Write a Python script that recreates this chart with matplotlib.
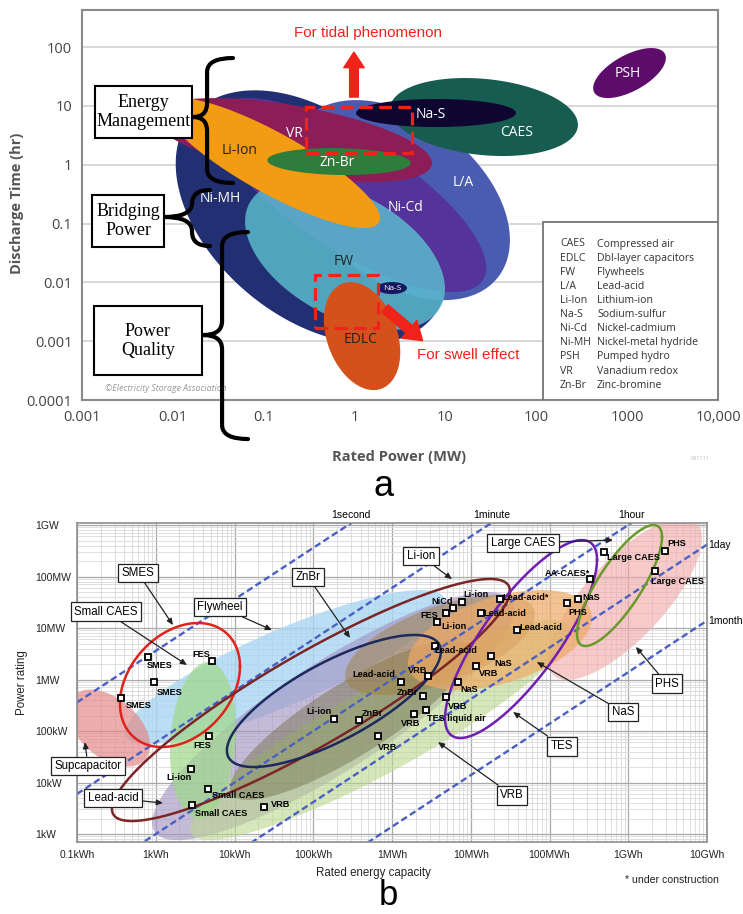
import numpy as np
import matplotlib
matplotlib.use("Agg")
import matplotlib.pyplot as plt
from matplotlib.patches import Rectangle, PathPatch
from matplotlib.path import Path
from matplotlib.ticker import FixedLocator, NullLocator, LogLocator

# ---------------- panel a: discharge time vs rated power ----------------
a_power_ticks = [1e-3, 1e-2, 1e-1, 1, 10, 100, 1000, 1e4]
a_power_labels = ["0.001", "0.01", "0.1", "1", "10", "100", "1000", "10,000"]
a_time_ticks = [1e-4, 1e-3, 1e-2, 1e-1, 1, 10, 100]
a_time_labels = ["0.0001", "0.001", "0.01", "0.1", "1", "10", "100"]

# technology regions: centre power (MW), centre time (hr), half-spans in decades, tilt
a_tech = ["Ni-MH", "L/A", "Ni-Cd", "FW", "CAES", "VR", "Na-S", "Li-Ion", "Zn-Br", "PSH", "EDLC", "Na-S (small)"]
a_center_mw = [0.34, 3.16, 0.89, 0.785, 26.5, 0.205, 7.87, 0.123, 0.675, 1062, 1.21, 2.58]
a_center_hr = [0.13, 0.25, 0.305, 0.0291, 6.46, 2.62, 7.55, 1.07, 1.13, 36.1, 0.00122, 0.0080]
a_span_mw = [1.50, 1.21, 1.50, 1.10, 1.035, 1.54, 0.88, 1.19, 0.79, 0.40, 0.42, 0.165]
a_span_hr = [2.15, 1.70, 1.65, 1.275, 0.663, 0.714, 0.238, 1.105, 0.229, 0.425, 0.918, 0.102]
a_tilt = [-0.42, -0.4, -0.75, -0.45, -0.2, -0.55, 0.0, -0.85, -0.1, 0.6, -0.3, 0.0]
a_colors = ["#232f73", "#4a5cb0", "#54339a", "#5cc2d2", "#175c50", "#8c1d56", "#0e0630",
            "#f39b12", "#2f7d3b", "#5e0c6c", "#d5511b", "#181860"]
a_alpha = [1, 1, 1, 0.8, 1, 1, 1, 1, 1, 1, 1, 1]

# region labels
a_lab_text = ["Li-Ion", "VR", "Zn-Br", "Na-S", "CAES", "PSH", "L/A", "Ni-Cd", "Ni-MH", "FW", "EDLC", "Na-S"]
a_lab_mw = [0.0548, 0.215, 0.641, 6.93, 61.4, 1021, 15.6, 3.68, 0.033, 0.766, 1.15, 2.58]
a_lab_hr = [1.77, 3.45, 1.07, 7.26, 3.59, 34.8, 0.507, 0.190, 0.271, 0.0230, 0.00105, 0.0080]
a_lab_color = ["#222222", "white", "white", "white", "white", "white", "white", "white",
               "white", "#222222", "#222222", "white"]
a_lab_size = [10, 10, 10, 10, 10, 10, 10, 10, 10, 10, 10, 6]

legend_abbr = ["CAES", "EDLC", "FW", "L/A", "Li-Ion", "Na-S", "Ni-Cd", "Ni-MH", "PSH", "VR", "Zn-Br"]
legend_name = ["Compressed air", "Dbl-layer capacitors", "Flywheels", "Lead-acid", "Lithium-ion",
               "Sodium-sulfur", "Nickel-cadmium", "Nickel-metal hydride", "Pumped hydro",
               "Vanadium redox", "Zinc-bromine"]

# application bands: (label, stem MW, tip MW, end MW, top hr, mid hr, bottom hr, box corners)
a_bands = [
    ("Energy\nManagement", 0.0238, 0.01667, 0.0459, 65, 6.46, 0.488, (0.00139, 2.84, 0.01626, 21.7)),
    ("Bridging\nPower", 0.01626, 0.0080, 0.0256, 0.371, 0.129, 0.0414, (0.00129, 0.0398, 0.00799, 0.305)),
    ("Power\nQuality", 0.0348, 0.0215, 0.0672, 0.0716, 0.00127, 2.17e-5, (0.001355, 2.66e-4, 0.02094, 0.00395)),
]

# ---------------- panel b: power rating vs energy capacity ----------------
b_energy_ticks = [1e2, 1e3, 1e4, 1e5, 1e6, 1e7, 1e8, 1e9, 1e10]
b_energy_labels = ["0.1kWh", "1kWh", "10kWh", "100kWh", "1MWh", "10MWh", "100MWh", "1GWh", "10GWh"]
b_power_ticks = [1e3, 1e4, 1e5, 1e6, 1e7, 1e8, 1e9]
b_power_labels = ["1kW", "10kW", "100kW", "1MW", "10MW", "100MW", "1GW"]

# discharge-time guide lines (hours)
b_durations = [1 / 3600, 1 / 60, 1, 24, 720]
b_duration_labels = ["1second", "1minute", "1hour", "1day", "1month"]

# shaded technology ranges: centre energy (Wh), centre power (W), half-spans (decades), tilt
b_fill_name = ["PHS", "Flywheel", "Supcapacitor", "Lead-acid", "VRB", "FES", "ZnBr", "Lead-acid (MWh)", "NaS"]
b_fill_e = [9.1e8, 4.38e4, 255, 1.78e5, 7.05e5, 3.98e3, 2.93e5, 4.07e6, 2.35e7]
b_fill_p = [3.66e7, 1.75e6, 1.14e5, 1.95e5, 1.05e5, 6.68e4, 1.64e5, 4.68e6, 5.85e6]
b_fill_se = [0.978, 2.032, 0.521, 2.298, 2.413, 0.419, 1.524, 1.206, 1.168]
b_fill_sp = [1.573, 1.495, 0.748, 2.408, 2.136, 1.515, 1.553, 0.971, 0.971]
b_fill_tilt = [0.75, 0.85, -0.45, 0.86, 0.9, 0.15, 0.85, 0.6, 0.45]
b_fill_color = ["#f2a8a8", "#a9d6f2", "#e38a8a", "#a597c5", "#bcd88f", "#9fd889", "#6f6e45", "#a08040", "#eeaa66"]
b_fill_alpha = [0.6, 0.8, 0.7, 0.65, 0.6, 0.7, 0.45, 0.5, 0.7]

# outlined technology ranges
b_ring_name = ["SMES", "Li-ion", "ZnBr", "TES", "Large CAES"]
b_ring_e = [2.03e3, 9.35e4, 1.83e5, 4.35e7, 7.74e8]
b_ring_p = [7.82e5, 4.0e5, 3.83e5, 6.11e6, 6.68e7]
b_ring_se = [0.762, 2.527, 1.359, 0.965, 0.540]
b_ring_sp = [1.204, 2.35, 1.282, 1.922, 1.175]
b_ring_tilt = [0.3, 0.9, 0.75, 0.8, 0.8]
b_ring_color = ["#e0231c", "#7b2626", "#1c2a5e", "#7020b0", "#6a9a2a"]

# installed / planned systems
b_pt_name = ["SMES", "SMES", "SMES", "FES", "FES", "Li-ion", "Small CAES", "Small CAES", "VRB",
             "Li-ion", "ZnBr", "VRB", "VRB", "TES liquid air", "ZnBr", "VRB", "Lead-acid", "VRB",
             "Lead-acid", "NiCd", "FES", "Li-ion", "Li-ion", "Lead-acid*", "Lead-acid", "Lead-acid",
             "NaS", "VRB", "NaS", "AA-CAES*", "NaS", "PHS", "Large CAES", "PHS", "Large CAES"]
b_pt_e = [800, 955, 363, 5200, 4800, 2800, 4600, 2900, 2.4e4,
          1.86e5, 3.76e5, 6.56e5, 1.88e6, 2.7e6, 2.5e6, 4.8e6, 1.29e6, 2.84e6,
          3.5e6, 5.9e6, 4.8e6, 3.7e6, 7.7e6, 2.34e7, 1.34e7, 3.85e7,
          1.79e7, 1.16e7, 6.8e6, 3.27e8, 2.3e8, 1.66e8, 4.92e8, 2.94e9, 2.19e9]
b_pt_p = [2.7e6, 8.8e5, 4.3e5, 2.26e6, 7.85e4, 1.79e4, 7.6e3, 3.7e3, 3.4e3,
          1.68e5, 1.61e5, 7.85e4, 2.1e5, 2.52e5, 4.71e5, 4.51e5, 8.83e5, 1.15e6,
          4.4e6, 2.4e7, 1.94e7, 1.3e7, 3.18e7, 3.63e7, 1.94e7, 9.1e6,
          2.8e6, 1.8e6, 8.83e5, 8.9e7, 3.6e7, 3.0e7, 2.98e8, 3.12e8, 1.27e8]
# label offsets from each marker (pixels right, pixels down)
b_pt_off = [(12, 8), (15, 10), (18, 7), (-11, -7), (-7, 9), (-12, 8), (30, 7), (29, 9), (16, -2),
            (-15, -8), (14, -7), (10, 11), (-3, 9), (30, 8), (-16, -4), (12, 9), (-27, -8), (-10, -6),
            (21, 4), (-11, -7), (-16, 2), (17, 4), (14, -8), (26, -2), (24, 0), (24, -3),
            (13, 7), (13, 7), (12, 7), (-23, -6), (13, -2), (11, 9), (29, 5), (12, -8), (22, 10)]

# callouts: text, text position (Wh, W), arrow tip (Wh, W)
b_callouts = [
    ("SMES", (596, 1.17e8), (1656, 1.14e7)),
    ("Small CAES", (233, 2.05e7), (2494, 1.91e6)),
    ("Flywheel", (6546, 2.56e7), (2.99e4, 9.15e6)),
    ("ZnBr", (8.57e4, 9.8e7), (2.93e5, 6.4e6)),
    ("Li-ion", (2.33e6, 2.5e8), (5.78e6, 8.9e7)),
    ("Large CAES", (4.6e7, 4.47e8), (6.4e8, 5.1e8)),
    ("PHS", (3.1e9, 8.2e5), (1.25e9, 4.3e6)),
    ("NaS", (8.6e8, 2.34e5), (6.9e7, 2.19e6)),
    ("TES", (1.44e8, 5.1e4), (3.44e7, 2.34e5)),
    ("VRB", (3.34e7, 5.7e3), (3.84e6, 6.1e4)),
    ("Supcapacitor", (138, 2.09e4), (126, 6.1e4)),
    ("Lead-acid", (286, 5.0e3), (1236, 4.0e3)),
]

SANS_A = ["Open Sans", "DejaVu Sans"]
SANS_B = ["Liberation Sans", "DejaVu Sans"]
SERIF = ["Liberation Serif", "DejaVu Serif"]


def tilted_region(cx, cy, sx, sy, rho, n=240):
    """Ellipse in log-log space with bounding half-spans sx, sy (decades) and tilt rho."""
    t = np.linspace(0, 2 * np.pi, n)
    lx = np.log10(cx) + sx * np.cos(t)
    ly = np.log10(cy) + sy * (rho * np.cos(t) + np.sqrt(1 - rho ** 2) * np.sin(t))
    return 10 ** lx, 10 ** ly


fig = plt.figure(figsize=(7.43, 9.14), dpi=100)

# ======================= panel a =======================
axa = fig.add_axes([82 / 743, 1 - 400 / 914, 636 / 743, 390 / 914])
axa.set_xscale("log")
axa.set_yscale("log")
axa.set_xlim(1e-3, 1e4)
axa.set_ylim(1e-4, 426)
axa.xaxis.set_major_locator(FixedLocator(a_power_ticks))
axa.yaxis.set_major_locator(FixedLocator(a_time_ticks))
axa.xaxis.set_minor_locator(NullLocator())
axa.yaxis.set_minor_locator(NullLocator())
axa.set_xticklabels(a_power_labels, fontfamily=SANS_A, fontsize=10.5, color="#444444")
axa.set_yticklabels(a_time_labels, fontfamily=SANS_A, fontsize=10.5, color="#444444")
axa.tick_params(length=0, pad=7)
axa.yaxis.grid(True, color="#d2d2d2", lw=1.2)
axa.set_axisbelow(True)
for s in axa.spines.values():
    s.set_color("#8a8a8a")
    s.set_linewidth(1.5)

for i in range(len(a_tech)):
    xs, ys = tilted_region(a_center_mw[i], a_center_hr[i], a_span_mw[i], a_span_hr[i], a_tilt[i])
    axa.fill(xs, ys, color=a_colors[i], alpha=a_alpha[i], lw=0, zorder=2 + i * 0.01)

for txt, x, y, c, fs in zip(a_lab_text, a_lab_mw, a_lab_hr, a_lab_color, a_lab_size):
    axa.text(x, y, txt, color=c, fontsize=fs, fontfamily=SANS_A, ha="center", va="center", zorder=3)

# red dashed focus boxes and arrows
for (x0, y0, x1, y1) in [(0.29, 1.58, 4.3, 9.55), (0.363, 0.00167, 1.79, 0.0133)]:
    axa.add_patch(Rectangle((x0, y0), x1 - x0, y1 - y0, fill=False, ec="#f0231a", lw=2.3,
                            ls=(0, (4, 2)), zorder=4))
axa.annotate("", xy=(0.985, 82), xytext=(0.985, 14.1),
             arrowprops=dict(arrowstyle="simple,head_width=1.05,head_length=0.8,tail_width=0.45",
                             mutation_scale=14, color="#f0231a", shrinkA=0, shrinkB=0), zorder=4)
axa.annotate("", xy=(5.6, 0.00102), xytext=(2.16, 0.0036),
             arrowprops=dict(arrowstyle="simple,head_width=1.2,head_length=0.9,tail_width=0.5",
                             mutation_scale=14, color="#f0231a", shrinkA=0, shrinkB=0), zorder=4)
axa.text(1.41, 173, "For tidal phenomenon", color="#f0231a", fontsize=11, fontfamily=SANS_B,
         ha="center", va="center")
axa.text(17.7, 5.8e-4, "For swell effect", color="#f0231a", fontsize=11, fontfamily=SANS_B,
         ha="center", va="center")

# abbreviation table
axa.add_patch(Rectangle((118.6, 1e-4), 1e4 - 118.6, 0.106 - 1e-4, fc="white", ec="#6a6a6a", lw=1.2,
                        zorder=5))
for k, (ab, nm) in enumerate(zip(legend_abbr, legend_name)):
    yy = 0.400 - k * 0.0362
    axa.text(0.7516, yy, ab, transform=axa.transAxes, fontsize=7.6, fontfamily=SANS_A,
             color="#333333", va="center", zorder=6)
    axa.text(0.8097, yy, nm, transform=axa.transAxes, fontsize=7.6, fontfamily=SANS_A,
             color="#333333", va="center", zorder=6)

axa.text(0.0018, 1.55e-4, "©Electricity Storage Association", fontsize=6.3, fontstyle="italic",
         fontfamily=SANS_A, color="#9a9a9a", va="center", zorder=6)

# application braces and boxes
to_axes = axa.transData + axa.transAxes.inverted()
for label, xs_, xt_, xe_, yt_, ym_, yb_, box in a_bands:
    (sx, st), (tx, sm), (ex, sb) = to_axes.transform([(xs_, yt_), (xt_, ym_), (xe_, yb_)])
    r = 14 / 390
    verts = [(ex, st), (sx, st), (sx, st - r), (sx, sm + r), (sx, sm), (tx, sm),
             (sx, sm), (sx, sm - r), (sx, sb + r), (sx, sb), (ex, sb)]
    codes = [Path.MOVETO, Path.CURVE3, Path.CURVE3, Path.LINETO, Path.CURVE3, Path.CURVE3,
             Path.CURVE3, Path.CURVE3, Path.LINETO, Path.CURVE3, Path.CURVE3]
    axa.add_patch(PathPatch(Path(verts, codes), transform=axa.transAxes, fill=False, ec="black",
                            lw=3.0, capstyle="round", joinstyle="round", clip_on=False, zorder=7))
    bx0, by0, bx1, by1 = box
    axa.add_patch(Rectangle((bx0, by0), bx1 - bx0, by1 - by0, fc="white", ec="black", lw=1.5,
                            clip_on=False, zorder=7))
    axa.text(np.sqrt(bx0 * bx1), np.sqrt(by0 * by1), label, fontfamily=SERIF, fontsize=13,
             ha="center", va="center", linespacing=1.15, zorder=8, clip_on=False)

fig.text(17 / 743, 1 - 203 / 914, "Discharge Time (hr)", rotation=90, ha="center", va="center",
         fontsize=10.5, fontweight="bold", fontfamily=SANS_A, color="#555555")
fig.text(399 / 743, 1 - 457 / 914, "Rated Power (MW)", ha="center", va="center",
         fontsize=10.5, fontweight="bold", fontfamily=SANS_A, color="#555555")
fig.text(700 / 743, 1 - 458 / 914, "081111", ha="center", va="center", fontsize=4,
         fontfamily=SANS_A, color="#bbbbbb")
fig.text(384 / 743, 1 - 487 / 914, "a", ha="center", va="center", fontsize=26, fontfamily=SANS_B)

# ======================= panel b =======================
axb = fig.add_axes([77 / 743, 1 - 842 / 914, 630 / 743, 319 / 914])
axb.set_xscale("log")
axb.set_yscale("log")
axb.set_xlim(1e2, 1e10)
axb.set_ylim(700, 1.094e9)
axb.xaxis.set_major_locator(FixedLocator(b_energy_ticks))
axb.yaxis.set_major_locator(FixedLocator(b_power_ticks))
axb.xaxis.set_minor_locator(LogLocator(base=10, subs=np.arange(2, 10)))
axb.yaxis.set_minor_locator(LogLocator(base=10, subs=np.arange(2, 10)))
axb.set_xticklabels(b_energy_labels, fontfamily=SANS_B, fontsize=7.5, color="#222222")
axb.set_yticklabels(b_power_labels, fontfamily=SANS_B, fontsize=7.5, color="#222222")
for lab in axb.get_yticklabels():
    lab.set_horizontalalignment("left")
axb.tick_params(axis="x", which="both", length=0, pad=6)
axb.tick_params(axis="y", which="both", length=0, pad=30)
axb.grid(True, which="major", color="#a9a9a9", lw=0.9)
axb.grid(True, which="minor", color="#d9d9d9", lw=0.6)
axb.set_axisbelow(True)
for s in axb.spines.values():
    s.set_color("#8e8e8e")
    s.set_linewidth(1.2)

for i in range(len(b_fill_name)):
    xs, ys = tilted_region(b_fill_e[i], b_fill_p[i], b_fill_se[i], b_fill_sp[i], b_fill_tilt[i])
    axb.fill(xs, ys, color=b_fill_color[i], alpha=b_fill_alpha[i], lw=0, zorder=1 + i * 0.01)

# constant discharge-time lines
e_line = np.logspace(2, 10, 200)
ytop = axb.get_ylim()[1]
for h, lab in zip(b_durations, b_duration_labels):
    axb.plot(e_line, e_line / h, color="#4a5fc4", lw=1.7, ls=(0, (2.8, 1.5)), zorder=2)
    if ytop * h < 1e10:
        axb.text(ytop * h, ytop * 1.12, lab, fontsize=7.5, fontfamily=SANS_B, ha="center",
                 va="bottom", clip_on=False)
    else:
        axb.text(1.03e10, 1e10 / h, lab, fontsize=7.5, fontfamily=SANS_B, ha="left", va="center",
                 clip_on=False)

for i in range(len(b_ring_name)):
    xs, ys = tilted_region(b_ring_e[i], b_ring_p[i], b_ring_se[i], b_ring_sp[i], b_ring_tilt[i])
    axb.plot(xs, ys, color=b_ring_color[i], lw=1.8, zorder=3)

axb.plot(b_pt_e, b_pt_p, ls="none", marker="s", ms=4, mfc="white", mec="black", mew=1.3, zorder=5)
for name, e, p, (dx, dy) in zip(b_pt_name, b_pt_e, b_pt_p, b_pt_off):
    axb.annotate(name, (e, p), xytext=(dx * 0.72, -dy * 0.72), textcoords="offset points",
                 fontsize=6.6, fontweight="bold", fontfamily=SANS_B, ha="center", va="center",
                 zorder=6)

for txt, (tx, ty), (ax_, ay_) in b_callouts:
    axb.annotate(txt, xy=(ax_, ay_), xytext=(tx, ty), fontsize=8.3, fontfamily=SANS_B,
                 ha="center", va="center", zorder=7, annotation_clip=False,
                 bbox=dict(boxstyle="square,pad=0.3", fc="white", ec="#222222", lw=0.9),
                 arrowprops=dict(arrowstyle="-|>,head_width=0.2,head_length=0.45", color="#222222",
                                 lw=0.9, shrinkA=0, shrinkB=0))

fig.text(22 / 743, 1 - 683 / 914, "Power rating", rotation=90, ha="center", va="center",
         fontsize=8.3, fontfamily=SANS_B, color="#222222")
fig.text(373 / 743, 1 - 873 / 914, "Rated energy capacity", ha="center", va="center",
         fontsize=8.3, fontfamily=SANS_B, color="#222222")
fig.text(672 / 743, 1 - 880 / 914, "* under construction", ha="center", va="center",
         fontsize=7.6, fontfamily=SANS_B, color="#222222")
fig.text(388 / 743, 1 - 905 / 914, "b", ha="center", va="baseline", fontsize=25, fontfamily=SANS_B)

fig.savefig("out.png", dpi=100, facecolor="white")
